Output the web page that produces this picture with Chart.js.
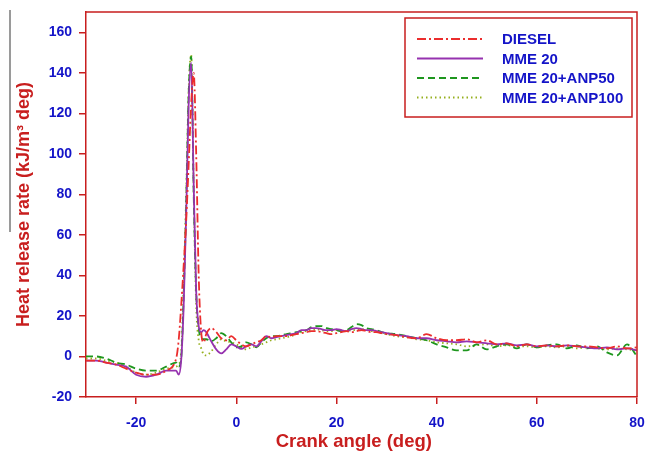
<!DOCTYPE html>
<html>
<head>
<meta charset="utf-8">
<script src="https://cdn.jsdelivr.net/npm/chart.js@4.4.1/dist/chart.umd.min.js"></script>
<style>
  html, body { margin: 0; padding: 0; background: #fff; }
  #wrap { width: 646px; height: 453px; }
</style>
</head>
<body>
<div id="wrap"><canvas id="hrr" width="646" height="453"></canvas></div>
<script>
// crank angle (deg) - finer around the premixed spike
const angles = [
  -30, -28, -26, -24, -22, -20, -18, -16, -14, -12,
  -11.5, -11, -10.5, -10, -9.5, -9, -8.5, -8, -7.5, -7, -6.5, -6,
  -5, -4, -3, -2, -1, 0, 1, 2, 3, 4, 5, 6, 7, 8, 9, 10, 11, 12, 13, 14, 15,
  16, 17, 18, 19, 20, 21, 22, 23, 24, 25, 26, 27, 28, 29, 30,
  32, 34, 36, 38, 40, 42, 44, 46, 48, 50, 52, 54, 56, 58, 60, 62, 64, 66, 68, 70, 72, 74, 76, 78, 80
];

// heat release rate (kJ/m3 deg)
const diesel = [
  -2, -2, -3, -4, -6, -8, -9, -9, -7, -1,
  8, 25, 45, 67, 95, 125, 140, 100, 40, 12, 7, 11,
  14, 12, 9, 8, 10, 8, 6, 5, 6, 7, 8, 10, 9.5, 10, 10, 10, 10.5, 11, 11.5, 12, 12.5,
  12.5, 12, 11.5, 11, 11.5, 12, 12.5, 12, 12.5, 13, 12.5, 12, 12, 11.5, 11,
  10.5, 9.5, 9, 11, 9, 8, 8, 8.5, 7, 8, 6, 6.5, 5, 6, 5, 5.5, 5, 5.5, 5, 5, 4.5, 4, 5, 4, 4.5
];
const mme20 = [
  -2, -2, -3, -4, -5, -9, -10, -9, -7, -7,
  -9, -2, 25, 70, 125, 145, 85, 32, 15, 12, 13, 12,
  7.5, 3.5, 1.5, 3.5, 6, 5, 3.8, 5, 6, 5, 7.5, 10, 9, 9.5, 10, 10.5, 11, 11.5, 13, 13, 14,
  14, 13.5, 13, 13, 13.5, 13, 12.5, 13.5, 14, 13.5, 13, 13, 12.5, 12, 11.5,
  10.5, 10, 9, 9, 8, 7.5, 7, 7.5, 7, 6.5, 6, 6.5, 5.5, 6, 5, 5.5, 5, 5.5, 5, 4.5, 4, 4.5, 3.5, 4, 3
];
const mme20Anp50 = [
  0, 0, -1, -3, -4, -6, -7, -7, -5, -3,
  -5, -1, 30, 75, 130, 148, 80, 32, 14, 9, 8.5, 8.5,
  7.5, 9, 11.5, 10, 7, 4.5, 5, 7, 6, 4.5, 7, 9, 10, 10, 10.5, 11, 11.5, 12, 12.5, 13, 14.5,
  15, 15, 14, 13.5, 13, 12.5, 13, 14.5, 16, 15.5, 14, 13.5, 13, 12, 11.5,
  11, 10, 9, 8, 6, 4.5, 3, 3, 6, 3.5, 5, 6, 4, 6, 4.5, 5.5, 6, 4, 5.5, 4, 5, 2, 0.5, 6, 0
];
const mme20Anp100 = [
  -1, -1, -2, -3, -5, -8, -9, -8, -6, -5,
  -4, 2, 35, 80, 132, 149, 82, 25, 8, 4, 1, 0.5,
  2.5, 6, 8.5, 7.5, 7, 6, 4.5, 3.5, 4.5, 5, 6, 7, 8, 8.5, 9, 9.5, 10, 11, 12, 12.5, 13,
  13.5, 13, 12.5, 12.5, 13, 13, 12.5, 13, 13, 13.5, 13, 12.5, 12, 11.5, 11,
  10, 9.5, 8.5, 8, 7, 6.5, 6, 5, 5.5, 6, 5, 5.5, 5, 5, 4.5, 5, 4.5, 5, 4, 4.5, 4, 3.5, 4, 3.5, 3
];

const seriesNames = ['DIESEL', 'MME 20', 'MME 20+ANP50', 'MME 20+ANP100'];
const xTicks = [-20, 0, 20, 40, 60, 80];
const yTicks = [-20, 0, 20, 40, 60, 80, 100, 120, 140, 160];

const RED = 'rgb(200,30,30)';
const BLUE = 'rgb(20,20,200)';
const FONT = '"Liberation Sans", Arial, sans-serif';

function pts(vals) {
  return angles.map((a, i) => ({ x: a, y: vals[i] }));
}

const styles = [
  { color: 'rgb(235,45,45)', dash: [9, 3, 2, 3] },
  { color: 'rgb(150,50,175)', dash: [] },
  { color: 'rgb(30,150,30)', dash: [7, 4] },
  { color: 'rgb(150,175,30)', dash: [1.5, 3] }
];

const datasets = [diesel, mme20, mme20Anp50, mme20Anp100].map((v, i) => ({
  label: seriesNames[i],
  data: pts(v),
  borderColor: styles[i].color,
  backgroundColor: styles[i].color,
  borderDash: styles[i].dash,
  borderWidth: 1.8,
  pointRadius: 0,
  cubicInterpolationMode: 'monotone'
}));

// red frame around the plot, the boxed legend and the stray grey rule at the left
const frame = {
  id: 'frame',
  afterDraw(chart) {
    const { ctx, chartArea: a } = chart;
    ctx.save();
    ctx.strokeStyle = RED;
    ctx.lineWidth = 1.5;
    ctx.beginPath();
    ctx.moveTo(a.left, a.top);
    ctx.lineTo(a.right, a.top);
    ctx.lineTo(a.right, a.bottom);
    ctx.stroke();

    const bx = a.right - 232, by = a.top + 6, bw = 227, bh = 99;
    ctx.fillStyle = '#fff';
    ctx.fillRect(bx, by, bw, bh);
    ctx.strokeRect(bx, by, bw, bh);

    ctx.font = 'bold 15px ' + FONT;
    ctx.textBaseline = 'middle';
    chart.data.datasets.forEach((ds, i) => {
      const y = by + 21 + i * 19.5;
      ctx.strokeStyle = ds.borderColor;
      ctx.lineWidth = 1.8;
      ctx.setLineDash(ds.borderDash);
      ctx.beginPath();
      ctx.moveTo(bx + 12, y);
      ctx.lineTo(bx + 78, y);
      ctx.stroke();
      ctx.setLineDash([]);
      ctx.fillStyle = BLUE;
      ctx.fillText(ds.label, bx + 97, y + 1);
    });

    ctx.strokeStyle = 'rgb(120,120,120)';
    ctx.lineWidth = 1.5;
    ctx.beginPath();
    ctx.moveTo(10, 10);
    ctx.lineTo(10, 232);
    ctx.stroke();
    ctx.restore();
  }
};

new Chart(document.getElementById('hrr'), {
  type: 'line',
  data: { datasets },
  options: {
    responsive: false,
    animation: false,
    devicePixelRatio: 1,
    layout: { padding: { top: 12, right: 9, left: 0, bottom: 0 } },
    plugins: { legend: { display: false }, tooltip: { enabled: false } },
    scales: {
      x: {
        type: 'linear',
        min: -30,
        max: 80,
        afterBuildTicks: s => { s.ticks = xTicks.map(v => ({ value: v })); },
        afterFit: s => { s.height = 56; s.paddingRight = 0; s.paddingLeft = 0; },
        border: { color: RED, width: 1.5 },
        grid: { drawOnChartArea: false, drawTicks: true, tickLength: 7, color: RED, lineWidth: 1.5 },
        ticks: { color: BLUE, padding: 11, maxRotation: 0, font: { family: FONT, size: 14, weight: 'bold' } },
        title: {
          display: true,
          // trailing spaces nudge the centred title left, as in the original
          text: 'Crank angle (deg)   ',
          color: RED,
          padding: { top: 0, bottom: 0 },
          font: { family: FONT, size: 18.5, weight: 'bold' }
        }
      },
      y: {
        min: -20,
        max: 170,
        afterBuildTicks: s => { s.ticks = yTicks.map(v => ({ value: v })); },
        afterFit: s => { s.width = 86; s.paddingTop = 0; s.paddingBottom = 0; },
        border: { color: RED, width: 1.5 },
        grid: { drawOnChartArea: false, drawTicks: true, tickLength: 7, color: RED, lineWidth: 1.5 },
        ticks: { color: BLUE, padding: 7, font: { family: FONT, size: 14, weight: 'bold' } },
        title: {
          display: true,
          text: 'Heat release rate (kJ/m³ deg)',
          color: RED,
          padding: { top: 13, bottom: 0 },
          font: { family: FONT, size: 18, weight: 'bold' }
        }
      }
    }
  },
  plugins: [frame]
});
</script>
</body>
</html>
